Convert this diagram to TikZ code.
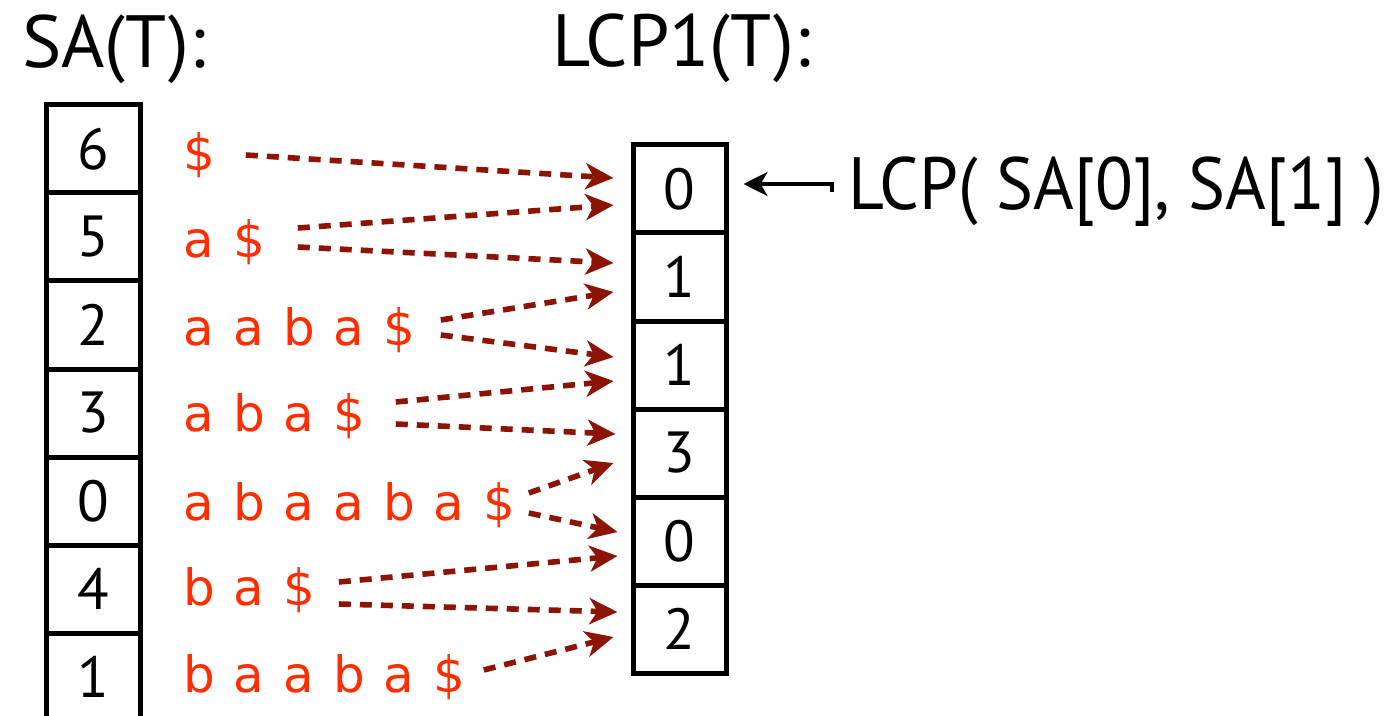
\documentclass[tikz,border=0pt]{standalone}
\usepackage{fontspec}
\usepackage{graphicx}
\setmainfont{PT Sans}
\newfontfamily\redfont{DejaVu Sans}
\usetikzlibrary{arrows.meta,calc}
\definecolor{sufred}{RGB}{255,45,0}
\definecolor{arrred}{RGB}{140,20,5}
\newcommand\chbox[1]{\makebox[25pt][l]{#1}}
\begin{document}
\begin{tikzpicture}[x=0.5pt,y=-0.5pt,
  cell/.style={draw, line width=2.5pt, minimum width=47pt, minimum height=44pt, inner sep=0pt, font=\fontsize{29}{29}\selectfont},
  lcell/.style={cell, minimum width=46.5pt},
  suf/.style={text=sufred, anchor=base west, inner sep=0pt, font=\redfont\fontsize{25}{25}\selectfont},
  conn/.style={draw=arrred, line width=2.8pt, dash pattern=on 6pt off 4.5pt, -{Stealth[length=14pt,width=13pt,inset=4pt]}},
  title/.style={anchor=base west, inner sep=0pt, font=\fontsize{37}{37}\selectfont},
  ptr/.style={draw, line width=2pt, -{Stealth[length=12pt,width=12pt,inset=3.5pt]}}]
\useasboundingbox (0,0) rectangle (1400,716);
% titles
\node[title] (tsa) at (22,68) {SA(T):};
\node[title] (tlcp) at (552,67) {LCP1(T):};
% SA cells
\foreach \v [count=\i from 0] in {6,5,2,3,0,4,1}
  \node[cell] (sa\i) at (93,149+88*\i) {\v};
% LCP cells
\foreach \v [count=\i from 0] in {0,1,1,3,0,2}
  \node[lcell] (l\i) at (679.5,189+88*\i) {\v};
% suffixes
\node[suf] (s0) at (183,171) {\chbox{\$}};
\node[suf] (s1) at (183,258) {\chbox{a}\chbox{\$}};
\node[suf] (s2) at (183,345) {\chbox{a}\chbox{a}\chbox{b}\chbox{a}\chbox{\$}};
\node[suf] (s3) at (183,431) {\chbox{a}\chbox{b}\chbox{a}\chbox{\$}};
\node[suf] (s4) at (183,520) {\chbox{a}\chbox{b}\chbox{a}\chbox{a}\chbox{b}\chbox{a}\chbox{\$}};
\node[suf] (s5) at (183,605) {\chbox{b}\chbox{a}\chbox{\$}};
\node[suf] (s6) at (183,692) {\chbox{b}\chbox{a}\chbox{a}\chbox{b}\chbox{a}\chbox{\$}};
% arrows
\draw[conn] ($(s0.base east)+(12,-16)$) -- ($(l0.west)+(-17,-11)$);
\draw[conn] ($(s1.base east)+(14,-30)$) -- ($(l0.west)+(-17,16)$);
\draw[conn] ($(s1.base east)+(14,-11)$) -- ($(l1.west)+(-17,-14)$);
\draw[conn] ($(s2.base east)+(7,-25)$) -- ($(l1.west)+(-17,15)$);
\draw[conn] ($(s2.base east)+(7,-10)$) -- ($(l2.west)+(-17,-8)$);
\draw[conn] ($(s3.base east)+(12,-29)$) -- ($(l2.west)+(-17,16)$);
\draw[conn] ($(s3.base east)+(12,-7)$) -- ($(l3.west)+(-15,-19)$);
\draw[conn] ($(s4.base east)+(-5,-27)$) -- ($(l3.west)+(-17,10)$);
\draw[conn] ($(s4.base east)+(-5,-7)$) -- ($(l4.west)+(-13,-9)$);
\draw[conn] ($(s5.base east)+(5,-23)$) -- ($(l4.west)+(-13,15)$);
\draw[conn] ($(s5.base east)+(5,-1)$) -- ($(l5.west)+(-13,-17)$);
\draw[conn] ($(s6.base east)+(0,-22)$) -- ($(l5.west)+(-17,8)$);
% pointer label
\node[title, anchor=base west] (lbl) at (848,210) {\resizebox{268pt}{\height}{LCP( SA[0], SA[1] )}};
\draw[ptr] ($(lbl.west)+(-16,0)$) |- ($(l0.east)+(15,-5)$);
\end{tikzpicture}
\end{document}
